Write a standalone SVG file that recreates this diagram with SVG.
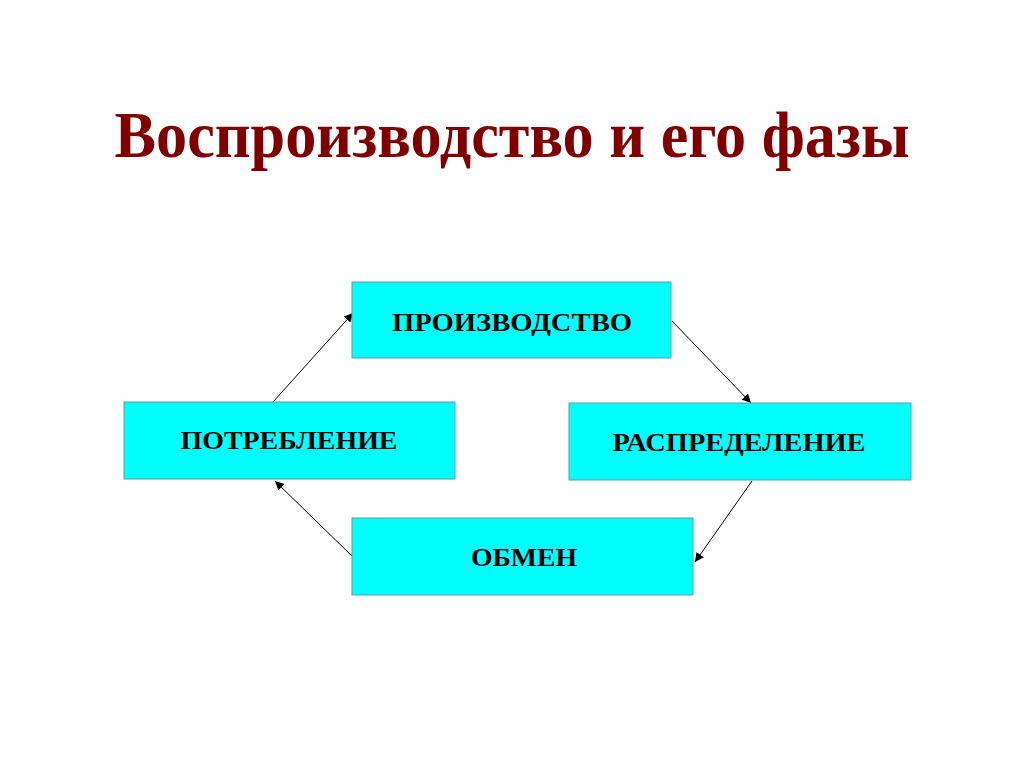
<svg xmlns="http://www.w3.org/2000/svg" width="1024" height="768" viewBox="0 0 1024 768">
<style>
.box{fill:#00FFFF;stroke:#5f9ea0;stroke-width:1}
.lbl{font-family:"Liberation Serif","Times New Roman",serif;font-weight:bold;font-size:26px;fill:#000;text-anchor:middle}
.title{font-family:"Liberation Serif","Times New Roman",serif;font-weight:bold;font-size:66px;fill:#800000;text-anchor:middle}
.conn{stroke:#000;stroke-width:1;fill:none;marker-end:url(#ah)}
</style>
<defs>
<marker id="ah" viewBox="0 0 10 10" refX="10" refY="5" markerWidth="9" markerHeight="9" markerUnits="userSpaceOnUse" orient="auto">
<path d="M0,0 L10,5 L0,10 z" fill="#000"/>
</marker>
</defs>
<rect width="1024" height="768" fill="#fff"/>
<text class="title" x="512" y="157" textLength="795" lengthAdjust="spacingAndGlyphs">Воспроизводство и его фазы</text>
<g id="connectors">
<line class="conn" x1="273" y1="402" x2="353" y2="313"/>
<line class="conn" x1="672" y1="321" x2="751" y2="403"/>
<line class="conn" x1="752" y1="481" x2="695" y2="562"/>
<line class="conn" x1="353" y1="557" x2="275" y2="481"/>
</g>
<g id="node-proizvodstvo">
<rect class="box" x="352" y="282" width="319" height="76"/>
<text class="lbl" x="512" y="331" textLength="240" lengthAdjust="spacingAndGlyphs">ПРОИЗВОДСТВО</text>
</g>
<g id="node-potreblenie">
<rect class="box" x="124" y="402" width="331" height="77"/>
<text class="lbl" x="289" y="449" textLength="217" lengthAdjust="spacingAndGlyphs">ПОТРЕБЛЕНИЕ</text>
</g>
<g id="node-raspredelenie">
<rect class="box" x="569" y="403" width="342" height="77"/>
<text class="lbl" x="739" y="451" textLength="253" lengthAdjust="spacingAndGlyphs">РАСПРЕДЕЛЕНИЕ</text>
</g>
<g id="node-obmen">
<rect class="box" x="352" y="518" width="341" height="77"/>
<text class="lbl" x="524" y="566" textLength="106" lengthAdjust="spacingAndGlyphs">ОБМЕН</text>
</g>
</svg>
